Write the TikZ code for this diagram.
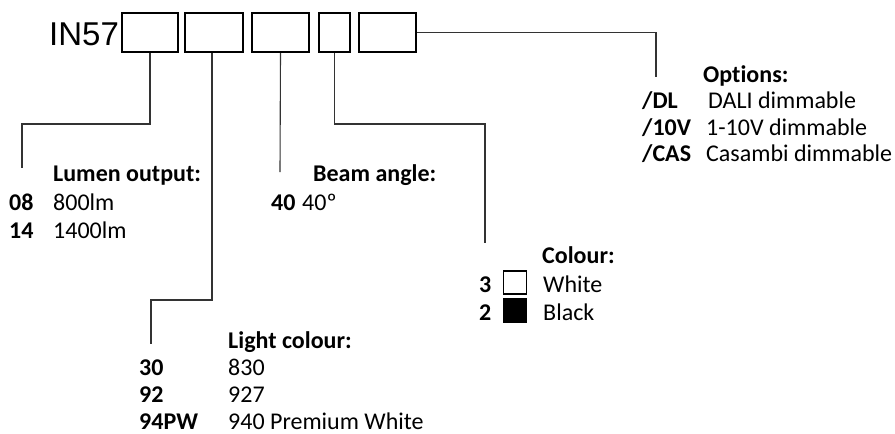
\documentclass[tikz,border=0pt]{standalone}
\usepackage{fontspec}
\setmainfont[RawFeature={-liga}]{Carlito}
\newfontfamily\arialfont{Liberation Sans}
\begin{document}
\begin{tikzpicture}[x=1pt,y=-1pt,
  codebox/.style={draw=black, line width=2pt, inner sep=0, minimum height=39pt},
  conn/.style={draw=black!80, line width=1.1pt},
  txt/.style={anchor=base west, inner sep=0, font=\fontsize{24}{28}\selectfont},
  bld/.style={anchor=base west, inner sep=0, font=\fontsize{24}{28}\selectfont\bfseries},
  swatch/.style={draw=black, line width=1.6pt, inner sep=0, minimum width=23pt, minimum height=23pt}]
\useasboundingbox (0,0) rectangle (895,434);
% title and code boxes
\node[anchor=base west, inner sep=0, font=\arialfont\fontsize{33}{36}\selectfont] (title) at (49,45) {IN57};
\node[codebox, minimum width=56pt] (b1) at (150,32.5) {};
\node[codebox, minimum width=58pt] (b2) at (214,32.5) {};
\node[codebox, minimum width=57pt] (b3) at (280.5,32.5) {};
\node[codebox, minimum width=31pt] (b4) at (334.5,32.5) {};
\node[codebox, minimum width=57pt] (b5) at (387.5,32.5) {};
% connector end points
\coordinate (k1) at (22,124);  \coordinate (e1) at (22,168);
\coordinate (k2) at (151,300); \coordinate (e2) at (151,344);
\coordinate (e3) at (280,172);
\coordinate (k4) at (485,124); \coordinate (e4) at (485,243);
\coordinate (k5) at (656,32.5); \coordinate (e5) at (656,77);
\draw[conn] (b1.south) |- (k1) -- (e1);
\draw[conn] (b2.south -| 212,0) -- (212,300) -- (k2) -- (e2);
\draw[conn] (b3.south) -- (e3);
\draw[conn] (b4.south) |- (k4) -- (e4);
\draw[conn] (b5.east) -- (k5) -- (e5);
% Lumen output
\node[bld] (lumh) at (53,181) {Lumen output:};
\node[bld] (l08) at (9,210) {08};
\node[txt] (l08v) at (53,210) {800lm};
\node[bld] (l14) at (9,238) {14};
\node[txt] (l14v) at (53,238) {1400lm};
% Beam angle
\node[bld] (beamh) at (313,181) {Beam angle:};
\node[bld] (b40) at (271,210) {40};
\node[txt] (b40v) at (302,210) {40º};
% Colour
\node[bld] (colh) at (542,263) {Colour:};
\node[bld] (c3) at (479,292) {3};
\node[swatch, fill=white] (sw3) at (515,282.5) {};
\node[txt] (c3v) at (543,292) {White};
\node[bld] (c2) at (479,320) {2};
\node[swatch, fill=black] (sw2) at (515,310.5) {};
\node[txt] (c2v) at (543,320) {Black};
% Options
\node[bld] (opth) at (703,82) {Options:};
\node[bld] (odl) at (642,108) {/DL};
\node[txt] (odlv) at (708,108) {DALI dimmable};
\node[bld] (o10) at (642,135) {/10V};
\node[txt] (o10v) at (706,135) {1-10V dimmable};
\node[bld] (ocas) at (642,161) {/CAS};
\node[txt] (ocasv) at (706,161) {Casambi dimmable};
% Light colour
\node[bld] (lch) at (228,348) {Light colour:};
\node[bld] (lc30) at (139,375) {30};
\node[txt] (lc30v) at (228,375) {830};
\node[bld] (lc92) at (139,402) {92};
\node[txt] (lc92v) at (228,402) {927};
\node[bld] (lc94) at (139,429) {94PW};
\node[txt] (lc94v) at (228,429) {940 Premium White};
\end{tikzpicture}
\end{document}
